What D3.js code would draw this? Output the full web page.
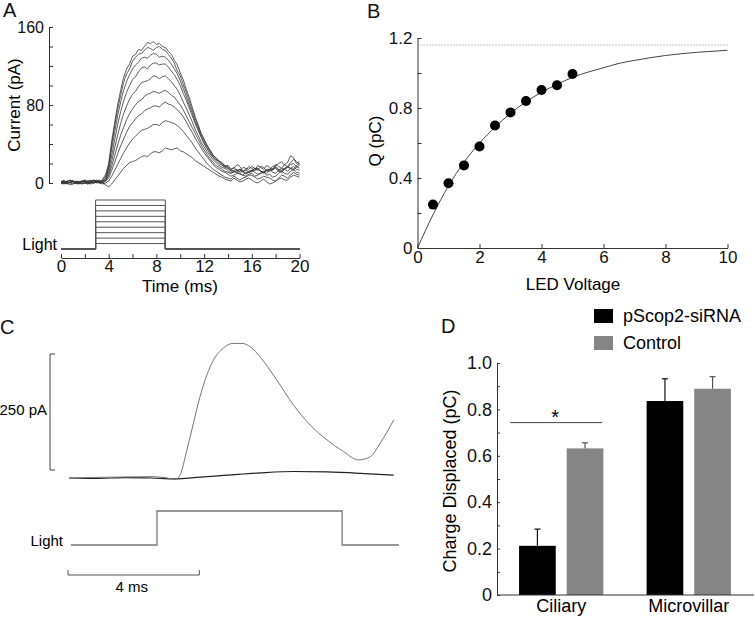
<!DOCTYPE html>
<html><head><meta charset="utf-8">
<script src="https://cdn.jsdelivr.net/npm/d3@7"></script>
<style>
body{margin:0;background:#fff;}
svg{display:block;font-family:"Liberation Sans",Arial,Helvetica,sans-serif;}
</style></head><body>
<svg id="fig" width="755" height="618"></svg>
<script>
// ---------------- Panel A data ----------------
const timeA = [0,0.25,0.5,0.75,1,1.25,1.5,1.75,2,2.25,2.5,2.75,3,3.25,3.5,3.75,4,4.25,4.5,4.75,5,5.25,5.5,5.75,6,6.25,6.5,6.75,7,7.25,7.5,7.75,8,8.25,8.5,8.75,9,9.25,9.5,9.75,10,10.25,10.5,10.75,11,11.25,11.5,11.75,12,12.25,12.5,12.75,13,13.25,13.5,13.75,14,14.25,14.5,14.75,15,15.25,15.5,15.75,16,16.25,16.5,16.75,17,17.25,17.5,17.75,18,18.25,18.5,18.75,19,19.25,19.5,19.75,20];
const traceA1 = [1,3,-1,1,2,-1,0,2,3,0,1,3,2,0,4,9,20,43,62,80,95,108,117,122,130,132,137,136,140,144,143,145,142,143,140,139,135,132,126,121,113,106,96,88,78,68,60,51,45,38,34,28,26,22,21,17,18,14,15,19,17,12,13,17,15,13,18,16,14,18,16,13,19,17,15,19,21,28,26,20,22];
const traceA2 = [0,-1,2,3,1,0,-1,1,2,1,0,2,3,1,3,7,18,39,58,76,90,103,112,117,125,129,132,133,136,139,138,136,139,140,137,136,132,128,123,115,110,101,93,84,75,66,58,50,44,39,33,29,25,23,20,18,17,14,16,13,12,16,15,14,17,15,13,17,16,12,14,17,18,20,22,18,17,21,24,22,19];
const traceA3 = [2,1,0,-2,-1,0,1,2,0,0,2,3,1,0,2,5,16,35,52,69,83,95,104,111,117,121,124,128,129,128,131,133,132,129,130,129,126,122,117,112,105,97,89,80,72,63,56,48,42,36,32,27,24,22,19,17,16,12,13,14,11,12,14,11,12,15,15,12,11,14,14,15,17,14,13,15,16,19,20,17,15];
const traceA4 = [-1,0,1,3,2,1,0,-1,1,2,3,1,0,1,2,4,13,28,44,60,73,84,93,100,106,109,114,118,119,117,121,123,123,121,122,122,119,115,111,106,100,92,85,77,69,61,54,47,40,35,30,26,23,20,18,16,15,13,12,11,14,12,10,11,13,15,15,12,11,10,13,14,16,13,12,15,17,15,14,18,20];
const traceA5 = [1,2,0,1,2,0,-1,1,3,2,1,0,2,3,1,3,10,22,36,49,61,71,79,86,91,94,99,103,104,105,107,110,109,107,109,110,107,104,100,96,90,83,77,70,63,55,49,42,37,32,28,24,21,18,16,15,13,10,11,13,14,11,9,11,12,13,14,12,10,13,12,14,15,12,11,14,16,15,13,16,18];
const traceA6 = [0,1,2,0,1,2,1,-1,0,1,2,0,1,2,0,2,8,17,28,39,49,57,65,71,76,80,84,85,89,91,92,94,93,92,94,95,93,90,88,84,80,75,69,63,57,51,45,39,34,29,25,21,18,16,14,12,11,10,12,11,9,8,11,12,13,11,9,10,12,13,14,11,10,13,15,14,12,15,17,14,13];
const traceA7 = [1,0,-1,1,2,1,0,2,1,-1,0,1,2,0,1,2,5,13,21,30,38,45,52,58,62,66,69,71,74,76,77,79,79,78,81,83,81,80,78,75,72,68,63,57,52,46,41,36,31,27,23,19,16,14,12,11,9,7,8,10,10,8,7,9,10,7,8,10,11,8,9,6,7,10,12,10,9,12,14,11,10];
const traceA8 = [0,2,1,0,-1,1,2,0,0,-1,1,2,1,0,-1,0,2,7,13,19,25,31,36,41,45,48,51,54,55,56,58,60,60,59,62,64,63,62,61,59,56,53,49,45,41,36,32,28,24,20,17,14,12,10,8,6,5,4,7,5,3,5,6,8,8,6,4,5,7,6,5,3,2,5,8,7,5,8,11,9,8];
const traceA9 = [1,-1,0,1,2,0,0,2,1,0,-1,0,1,2,0,-2,-4,-1,3,7,11,15,18,21,22,23,25,27,28,27,30,32,32,31,33,36,35,34,35,36,33,32,30,28,26,23,21,19,17,15,13,11,9,7,6,4,3,2,5,3,1,2,4,5,3,1,0,2,4,1,-1,0,2,4,5,3,3,6,8,7,6];
const lightLevelsA = [1,2,3,4,5,6,7,8,9];
const lightOnA = 2.9, lightOffA = 8.75;
const yTicksA = [0,20,40,60,80,100,120,140,160];
const yLabelsA = [0,80,160];
const xTicksA = [0,2,4,6,8,10,12,14,16,18,20];
const xLabelsA = [0,4,8,12,16,20];

// ---------------- Panel B data ----------------
const ledVoltage = [0.5,1,1.5,2,2.5,3,3.5,4,4.5,5];
const chargeQ = [0.248,0.37,0.472,0.58,0.70,0.775,0.84,0.903,0.93,0.994];
const fitV = [0,0.5,1,1.5,2,2.5,3,3.5,4,4.5,5,5.5,6,6.5,7,7.5,8,8.5,9,9.5,10];
const fitQ = [0,0.19,0.355,0.49,0.60,0.69,0.77,0.835,0.89,0.935,0.975,1.005,1.03,1.055,1.072,1.087,1.10,1.11,1.118,1.124,1.13];
const qMax = 1.16;
const yTicksB = [0,0.2,0.4,0.6,0.8,1.0,1.2];
const yLabelsB = [0,0.4,0.8,1.2];
const xTicksB = [0,2,4,6,8,10];

// ---------------- Panel C data ----------------
const timeCGrey = [0,0.5,1,1.5,2,2.5,3.0,3.23,3.38,3.59,3.79,3.99,4.2,4.4,4.7,5.0,5.27,5.52,5.82,6.33,6.84,7.35,7.86,8.36,8.82,9.18,9.48,9.89];
const currentCGrey = [0,1,1.5,2,2.5,3,0,-3,6,60,118,175,222,254,280,290,290,283,261,211,157,114,82,57,39,46,75,125];
const timeCBlack = [0,0.8,1.76,2.5,3.2,4,4.81,5.82,6.84,7.86,8.87,9.89];
const currentCBlack = [0,-1,1,0,-2,2,6,11,14,13,10,6];
const lightTimesC = [0.06,2.68,2.68,8.32,8.32,10.05];
const lightStateC = [0,0,1,1,0,0];
const scaleBarTimeC = 4;     // ms
const scaleBarCurrentC = 250; // pA

// ---------------- Panel D data ----------------
const categoriesD = ["Ciliary","Microvillar"];
const seriesD = ["pScop2-siRNA","Control"];
const valuesSiRNA = [0.212,0.836];
const errorsSiRNA = [0.072,0.096];
const valuesControl = [0.632,0.889];
const errorsControl = [0.024,0.052];
const sigLevelD = 0.743;
const yTicksD = [0,0.1,0.2,0.3,0.4,0.5,0.6,0.7,0.8,0.9,1.0];
const yLabelsD = [0,0.2,0.4,0.6,0.8,1.0];

// ===================================================
const svg = d3.select("#fig");
const AX = "#333";
function styleAxis(g, fs){
  g.attr("font-family",null).attr("font-size",fs);
  g.select(".domain").attr("stroke",AX);
  g.selectAll(".tick line").attr("stroke",AX);
  g.selectAll(".tick text").attr("fill","#111");
}

// panel letters
[{t:"A",x:3,y:17},{t:"B",x:367,y:18},{t:"C",x:0,y:334},{t:"D",x:441,y:333}].forEach(p=>{
  svg.append("text").attr("x",p.x).attr("y",p.y).attr("font-size",20).attr("fill","#111").text(p.t);
});

// ---------------- Panel A ----------------
const xA = d3.scaleLinear().domain([0,20]).range([61,299.5]);
const yA = d3.scaleLinear().domain([0,160]).range([183,27]);
const gA = svg.append("g");
gA.append("g").attr("transform","translate(49,0)")
  .call(d3.axisLeft(yA).tickValues(yTicksA).tickSize(-4).tickSizeOuter(0).tickPadding(5)
    .tickFormat(d=>yLabelsA.includes(d)?d:""))
  .call(g=>styleAxis(g,16));
gA.append("g").attr("transform","translate(0,258)")
  .call(d3.axisBottom(xA).tickValues(xTicksA).tickSize(-4).tickSizeOuter(0).tickPadding(2)
    .tickFormat(d=>xLabelsA.includes(d)?d:""))
  .call(g=>styleAxis(g,17));
const lineA = d3.line().x((d,i)=>xA(timeA[i])).y(d=>yA(d));
[traceA1,traceA2,traceA3,traceA4,traceA5,traceA6,traceA7,traceA8,traceA9].forEach(tr=>{
  gA.append("path").attr("d",lineA(tr)).attr("fill","none").attr("stroke","#333").attr("stroke-width",0.8);
});
const yLA = d3.scaleLinear().domain([0,9]).range([249,200]);
lightLevelsA.forEach(k=>{
  const p = d3.path();
  p.moveTo(xA(0),yLA(0)); p.lineTo(xA(lightOnA),yLA(0)); p.lineTo(xA(lightOnA),yLA(k));
  p.lineTo(xA(lightOffA),yLA(k)); p.lineTo(xA(lightOffA),yLA(0)); p.lineTo(xA(20),yLA(0));
  gA.append("path").attr("d",p.toString()).attr("fill","none").attr("stroke","#555").attr("stroke-width",1);
});
gA.append("text").attr("x",57).attr("y",250).attr("text-anchor","end").attr("font-size",16).text("Light");
gA.append("text").attr("x",180).attr("y",292).attr("text-anchor","middle").attr("font-size",17).text("Time (ms)");
gA.append("text").attr("transform","translate(20,105) rotate(-90)").attr("text-anchor","middle").attr("font-size",17).text("Current (pA)");

// ---------------- Panel B ----------------
const xB = d3.scaleLinear().domain([0,10]).range([417.5,727.5]);
const yB = d3.scaleLinear().domain([0,1.2]).range([248,38]);
const gB = svg.append("g");
gB.append("g").attr("transform","translate(417.5,0)")
  .call(d3.axisLeft(yB).tickValues(yTicksB).tickSize(-4).tickSizeOuter(0).tickPadding(5)
    .tickFormat(d=>yLabelsB.some(v=>Math.abs(v-d)<1e-9)?(d===0?"0":d.toFixed(1)):""))
  .call(g=>styleAxis(g,17));
gB.append("g").attr("transform","translate(0,248)")
  .call(d3.axisBottom(xB).tickValues(xTicksB).tickSize(-4).tickSizeOuter(0).tickPadding(3))
  .call(g=>styleAxis(g,17));
gB.append("line").attr("x1",xB(0)).attr("x2",xB(10)).attr("y1",yB(qMax)).attr("y2",yB(qMax))
  .attr("stroke","#888").attr("stroke-dasharray","1,2");
gB.append("path").attr("d",d3.line().curve(d3.curveMonotoneX).x((d,i)=>xB(fitV[i])).y(d=>yB(d))(fitQ))
  .attr("fill","none").attr("stroke","#444").attr("stroke-width",1);
gB.selectAll("circle").data(chargeQ).join("circle")
  .attr("cx",(d,i)=>xB(ledVoltage[i])).attr("cy",d=>yB(d)).attr("r",5).attr("fill","#000");
gB.append("text").attr("x",573).attr("y",290).attr("text-anchor","middle").attr("font-size",17).text("LED Voltage");
gB.append("text").attr("transform","translate(381,141) rotate(-90)").attr("text-anchor","middle").attr("font-size",17).text("Q (pC)");

// ---------------- Panel C ----------------
const xC = d3.scaleLinear().domain([0,9.9]).range([69,394]);
const yC = d3.scaleLinear().domain([0,250]).range([478,362]);
const yLC = d3.scaleLinear().domain([0,1]).range([545,511]);
const gC = svg.append("g");
gC.append("path").attr("d",d3.line().curve(d3.curveMonotoneX).x((d,i)=>xC(timeCBlack[i])).y(d=>yC(d))(currentCBlack))
  .attr("fill","none").attr("stroke","#222").attr("stroke-width",1.2);
gC.append("path").attr("d",d3.line().curve(d3.curveMonotoneX).x((d,i)=>xC(timeCGrey[i])).y(d=>yC(d))(currentCGrey))
  .attr("fill","none").attr("stroke","#777").attr("stroke-width",1);
gC.append("path").attr("d",d3.line().x((d,i)=>xC(lightTimesC[i])).y(d=>yLC(d))(lightStateC))
  .attr("fill","none").attr("stroke","#777").attr("stroke-width",1.3);
// vertical scale bar
const vbBottom = 470, vbLen = yC(0)-yC(scaleBarCurrentC);
gC.append("path").attr("d",`M55,${vbBottom-vbLen}H50V${vbBottom}H55`).attr("fill","none").attr("stroke","#444").attr("stroke-width",1);
gC.append("text").attr("x",47).attr("y",415).attr("text-anchor","end").attr("font-size",15).text(scaleBarCurrentC+" pA");
// horizontal scale bar
const hbY = 575, hbX0 = xC(0)-1, hbLen = xC(scaleBarTimeC)-xC(0);
gC.append("path").attr("d",`M${hbX0},${hbY-5}V${hbY}H${hbX0+hbLen}V${hbY-5}`).attr("fill","none").attr("stroke","#555").attr("stroke-width",1);
gC.append("text").attr("x",hbX0+hbLen/2-2).attr("y",592).attr("text-anchor","middle").attr("font-size",15).text(scaleBarTimeC+" ms");
gC.append("text").attr("x",63).attr("y",546).attr("text-anchor","end").attr("font-size",15).text("Light");

// ---------------- Panel D ----------------
const yD = d3.scaleLinear().domain([0,1]).range([595,363]);
const xD0 = d3.scaleBand().domain(categoriesD).range([497,753]).paddingInner(0.339).paddingOuter(0.173);
const xD1 = d3.scaleBand().domain(seriesD).range([0,xD0.bandwidth()]).paddingInner(0.23).paddingOuter(0);
const colorsD = {"pScop2-siRNA":"#000","Control":"#858585"};
const errColD = {"pScop2-siRNA":"#111","Control":"#555"};
const gD = svg.append("g");
gD.append("g").attr("transform","translate(497,0)")
  .call(d3.axisLeft(yD).tickValues(yTicksD).tickSize(-3).tickSizeOuter(0).tickPadding(5)
    .tickFormat(d=>yLabelsD.some(v=>Math.abs(v-d)<1e-9)?(d===0?"0":d.toFixed(1)):""))
  .call(g=>styleAxis(g,18));
const seriesVals = {"pScop2-siRNA":[valuesSiRNA,errorsSiRNA],"Control":[valuesControl,errorsControl]};
seriesD.forEach(s=>{
  const [vals,errs] = seriesVals[s];
  categoriesD.forEach((c,i)=>{
    const x = xD0(c)+xD1(s), w = xD1.bandwidth(), cx = x+w/2;
    gD.append("line").attr("x1",cx).attr("x2",cx).attr("y1",yD(vals[i])).attr("y2",yD(vals[i]+errs[i])).attr("stroke",errColD[s]).attr("stroke-width",1.2);
    gD.append("line").attr("x1",cx-3).attr("x2",cx+3).attr("y1",yD(vals[i]+errs[i])).attr("y2",yD(vals[i]+errs[i])).attr("stroke",errColD[s]).attr("stroke-width",1.2);
    gD.append("rect").attr("x",x).attr("y",yD(vals[i])).attr("width",w).attr("height",yD(0)-yD(vals[i])).attr("fill",colorsD[s]);
  });
});
gD.append("line").attr("x1",497).attr("x2",754).attr("y1",yD(0)).attr("y2",yD(0)).attr("stroke",AX);
categoriesD.forEach(c=>{
  gD.append("text").attr("x",xD0(c)+xD0.bandwidth()/2).attr("y",612).attr("text-anchor","middle").attr("font-size",18).text(c);
});
gD.append("line").attr("x1",xD0("Ciliary")-9).attr("x2",xD0("Ciliary")+xD0.bandwidth()-1)
  .attr("y1",yD(sigLevelD)).attr("y2",yD(sigLevelD)).attr("stroke","#444").attr("stroke-width",1);
gD.append("text").attr("x",xD0("Ciliary")+xD0.bandwidth()/2-6).attr("y",424).attr("text-anchor","middle").attr("font-size",20).text("*");
seriesD.forEach((s,i)=>{
  gD.append("rect").attr("x",594).attr("y",309+i*27).attr("width",19).attr("height",14).attr("fill",colorsD[s]);
  gD.append("text").attr("x",623).attr("y",322+i*27).attr("font-size",18).text(s);
});
gD.append("text").attr("transform","translate(456,481) rotate(-90)").attr("text-anchor","middle").attr("font-size",18).text("Charge Displaced (pC)");
</script>
</body></html>
